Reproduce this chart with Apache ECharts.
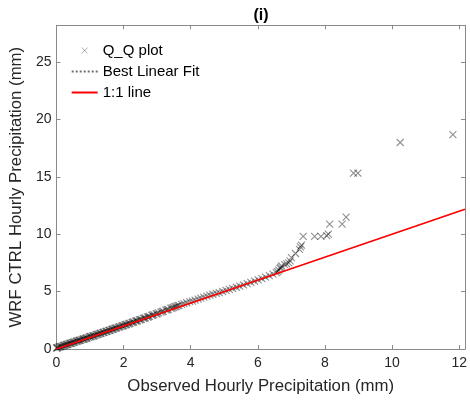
<!DOCTYPE html>
<html>
<head>
<meta charset="utf-8">
<script src="https://cdn.jsdelivr.net/npm/echarts@6/dist/echarts.min.js"></script>
<style>
html,body{margin:0;padding:0;background:#fff;}
#chart{width:470px;height:402px;}
</style>
</head>
<body>
<div id="chart"></div>
<script>
// Observed quantiles (mm)
const obsQ = [
0.00,0.03,0.07,0.10,0.14,0.18,0.21,0.25,0.29,0.33,0.36,0.40,0.44,0.48,0.52,0.55,0.59,0.63,0.67,0.71,
0.75,0.79,0.83,0.87,0.91,0.95,0.99,1.03,1.08,1.12,1.16,1.20,1.25,1.29,1.33,1.38,1.42,1.47,1.51,1.56,
1.60,1.65,1.70,1.74,1.79,1.84,1.89,1.94,1.99,2.04,2.09,2.14,2.19,2.25,2.30,2.36,2.41,2.47,2.53,2.59,
2.65,2.71,2.77,2.84,2.90,2.97,3.04,3.11,3.18,3.26,3.33,3.41,3.49,3.57,3.65,
3.73,3.80,3.88,3.97,4.05,4.13,4.22,4.30,4.39,4.48,4.57,4.66,4.76,4.85,4.95,5.05,5.15,5.25,5.36,5.46,
5.57,5.68,5.79,5.90,6.01,6.12,6.23,6.34,6.45,6.55,
6.59,6.62,6.66,6.68,6.71,6.80,6.86,6.92,6.96,7.00,7.12,7.24,7.27,7.30,7.35,7.69,7.88,8.05,8.10,8.14,
8.51,8.63,8.85,8.98,10.24,11.81,
// further readings inside the dense band
0.02,0.12,0.23,0.31,0.42,0.50,0.61,0.69,0.81,0.89,1.01,1.10,1.22,1.31,1.40,1.49,1.58,1.67,1.77,1.87,
1.97,2.07,2.17,2.28,2.39,2.50,2.62,2.74,2.87,3.00,3.15,3.30,3.45,3.53,3.61
];
// WRF CTRL quantiles (mm)
const wrfQ = [
0.08,0.12,0.16,0.19,0.23,0.26,0.29,0.33,0.37,0.40,0.44,0.48,0.51,0.55,0.59,0.62,0.66,0.70,0.74,0.78,
0.81,0.85,0.89,0.93,0.97,1.01,1.05,1.09,1.13,1.17,1.21,1.25,1.30,1.34,1.38,1.43,1.47,1.52,1.56,1.61,
1.65,1.70,1.75,1.79,1.84,1.89,1.94,1.99,2.04,2.09,2.14,2.19,2.25,2.30,2.36,2.42,2.47,2.53,2.59,2.66,
2.72,2.78,2.85,2.92,2.99,3.06,3.14,3.22,3.30,3.38,3.46,3.55,3.63,3.72,3.81,
3.88,3.95,4.03,4.12,4.18,4.26,4.34,4.43,4.52,4.60,4.69,4.77,4.84,4.92,5.01,5.10,5.19,5.28,5.38,5.48,
5.58,5.69,5.80,5.91,6.02,6.14,6.26,6.39,6.52,6.66,
6.75,6.88,7.03,7.12,7.23,7.36,7.42,7.50,7.68,7.97,8.32,8.67,8.90,9.05,9.82,9.82,9.82,9.88,10.00,10.87,
10.87,11.48,15.32,15.32,17.99,18.68,
// further readings inside the dense band
0.11,0.21,0.31,0.39,0.50,0.57,0.68,0.76,0.87,0.95,1.07,1.15,1.27,1.36,1.45,1.54,1.63,1.72,1.82,1.92,
2.01,2.12,2.22,2.33,2.44,2.56,2.69,2.81,2.95,3.09,3.25,3.42,3.59,3.68,3.77
];
// 1:1 line and best linear fit endpoints (mm)
const lineX = [0, 12.17];
const fitSlope = 1.0;
const fitIntercept = 0.0;
// Axis settings
const xRange = [0, 12.17];
const yRange = [0, 28.2];
const xStep = 2;
const yStep = 5;
const seriesNames = ['Q_Q plot', 'Best Linear Fit', '1:1 line'];

const qqData = obsQ.map((x, i) => [x, wrfQ[i]]);
const oneData = lineX.map(v => [v, v]);
const fitData = lineX.map(v => [v, fitSlope * v + fitIntercept]);

const FONT = 'Liberation Sans, Arial, sans-serif';
const axisGray = '#8a8a8a';
const labelColor = '#262626';
const markerStroke = 'rgba(0,0,0,0.55)';
const xPath = 'path://M0,0L10,10M10,0L0,10';
const xPathLegend = 'path://M0,0M14,14M4,4L10,10M10,4L4,10';

function baseAxis(extra) {
  return Object.assign({
    type: 'value',
    axisLine: {show: true, onZero: false, lineStyle: {color: axisGray, width: 1}},
    axisTick: {show: true, inside: true, length: 4, lineStyle: {color: axisGray}},
    splitLine: {show: false},
  }, extra);
}

const chart = echarts.init(document.getElementById('chart'), null, {renderer: 'canvas'});
chart.setOption({
  animation: false,
  backgroundColor: '#fff',
  title: {
    text: '(i)', left: 261, top: 8, padding: 0, textAlign: 'center',
    textStyle: {fontFamily: FONT, fontSize: 16, fontWeight: 'bold', color: '#000'}
  },
  grid: {left: 54, right: 2.3, top: 25.3, bottom: 53, containLabel: false},
  legend: {
    orient: 'vertical', left: 70.7, top: 43, padding: 0,
    itemWidth: 26, itemHeight: 14, itemGap: 6,
    textStyle: {fontFamily: FONT, fontSize: 15, color: '#000'},
    data: [
      {name: seriesNames[0], icon: xPathLegend,
       itemStyle: {color: 'rgba(0,0,0,0)', borderColor: 'rgba(0,0,0,0.4)', borderWidth: 1}},
      {name: seriesNames[1], itemStyle: {opacity: 0, color: 'rgba(0,0,0,0)', borderWidth: 0}},
      {name: seriesNames[2], itemStyle: {opacity: 0, color: 'rgba(0,0,0,0)', borderWidth: 0}}
    ]
  },
  xAxis: [
    baseAxis({
      position: 'bottom', min: xRange[0], max: xRange[1], interval: xStep,
      axisLabel: {show: true, fontFamily: FONT, fontSize: 14, color: labelColor, margin: 7, showMaxLabel: false},
      name: 'Observed Hourly Precipitation (mm)', nameLocation: 'middle', nameGap: 29,
      nameTextStyle: {fontFamily: FONT, fontSize: 16.8, color: labelColor}
    }),
    baseAxis({
      position: 'top', min: xRange[0], max: xRange[1], interval: xStep,
      axisLabel: {show: false}
    })
  ],
  yAxis: [
    baseAxis({
      position: 'left', min: yRange[0], max: yRange[1], interval: yStep,
      axisLabel: {show: true, fontFamily: FONT, fontSize: 14, color: labelColor, margin: 5, showMaxLabel: false},
      name: 'WRF CTRL Hourly Precipitation (mm)', nameLocation: 'middle', nameGap: 19,
      nameTextStyle: {fontFamily: FONT, fontSize: 16.8, color: labelColor}
    }),
    baseAxis({
      position: 'right', min: yRange[0], max: yRange[1], interval: yStep,
      axisLabel: {show: false}
    })
  ],
  series: [
    {
      name: seriesNames[0], type: 'scatter', xAxisIndex: 0, yAxisIndex: 0,
      symbol: xPath, symbolSize: 7, data: qqData,
      itemStyle: {color: 'rgba(0,0,0,0)', borderColor: markerStroke, borderWidth: 1.1},
      emphasis: {disabled: true}
    },
    {
      name: seriesNames[1], type: 'line', xAxisIndex: 0, yAxisIndex: 0,
      data: fitData, symbol: 'none', showSymbol: false,
      lineStyle: {color: '#6e6e6e', width: 1, type: 'dotted'},
      itemStyle: {color: '#6e6e6e'}
    },
    {
      name: seriesNames[2], type: 'line', xAxisIndex: 0, yAxisIndex: 0,
      data: oneData, symbol: 'none', showSymbol: false,
      lineStyle: {color: '#ff0000', width: 1.5},
      itemStyle: {color: '#ff0000'}
    }
  ]
});
</script>
</body>
</html>
